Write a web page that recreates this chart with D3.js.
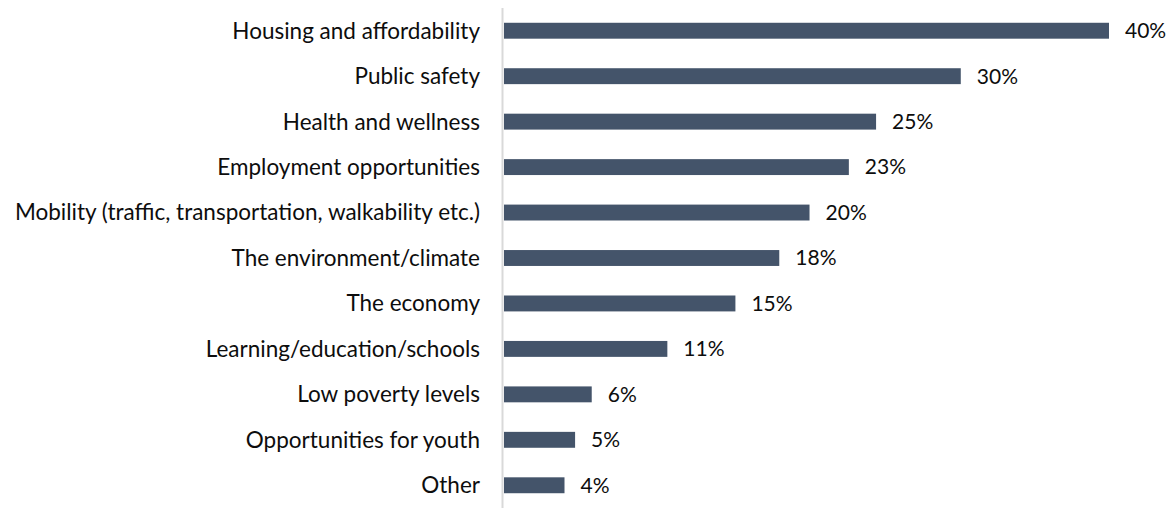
<!DOCTYPE html>
<html>
<head>
<meta charset="utf-8">
<script src="https://cdn.jsdelivr.net/npm/d3@7"></script>
<style>
  body { margin: 0; background: #fff; }
  svg text { font-family: Lato, "Open Sans", sans-serif; fill: #0d0d0d; }
</style>
</head>
<body>
<svg width="1170" height="508"></svg>
<script>
// categories, top to bottom
var categories = [
  "Housing and affordability",
  "Public safety",
  "Health and wellness",
  "Employment opportunities",
  "Mobility (traffic, transportation, walkability etc.)",
  "The environment/climate",
  "The economy",
  "Learning/education/schools",
  "Low poverty levels",
  "Opportunities for youth",
  "Other"
];
// share of respondents (%)
var values = [40.0, 30.2, 24.6, 22.8, 20.2, 18.2, 15.3, 10.8, 5.8, 4.7, 4.0];
// data labels as printed
var labels = ["40%", "30%", "25%", "23%", "20%", "18%", "15%", "11%", "6%", "5%", "4%"];

var data = categories.map(function(c, i) {
  return { name: c, value: values[i], label: labels[i] };
});

var svg = d3.select("svg");

var x = d3.scaleLinear().domain([0, 40]).range([504, 1109]);
var y = d3.scaleBand()
  .domain(categories)
  .range([8, 508])
  .paddingInner(0.65)
  .paddingOuter(0.325);

// bars
svg.selectAll("rect.bar")
  .data(data)
  .enter()
  .append("rect")
  .attr("class", "bar")
  .attr("x", x(0))
  .attr("y", function(d) { return y(d.name); })
  .attr("width", function(d) { return x(d.value) - x(0); })
  .attr("height", y.bandwidth())
  .attr("fill", "#44546a");

// category axis line
svg.append("line")
  .attr("x1", 502.5).attr("x2", 502.5)
  .attr("y1", 8).attr("y2", 508)
  .attr("stroke", "#d9d9d9")
  .attr("stroke-width", 2);

// category labels
svg.selectAll("text.cat")
  .data(data)
  .enter()
  .append("text")
  .attr("class", "cat")
  .attr("x", 480)
  .attr("y", function(d) { return y(d.name) + y.bandwidth() / 2; })
  .attr("dy", "0.35em")
  .attr("text-anchor", "end")
  .style("font-size", "22.5px")
  .text(function(d) { return d.name; });

// value labels
svg.selectAll("text.val")
  .data(data)
  .enter()
  .append("text")
  .attr("class", "val")
  .attr("x", function(d) { return x(d.value) + 16; })
  .attr("y", function(d) { return y(d.name) + y.bandwidth() / 2; })
  .attr("dy", "0.35em")
  .style("font-size", "21px")
  .text(function(d) { return d.label; });
</script>
</body>
</html>
